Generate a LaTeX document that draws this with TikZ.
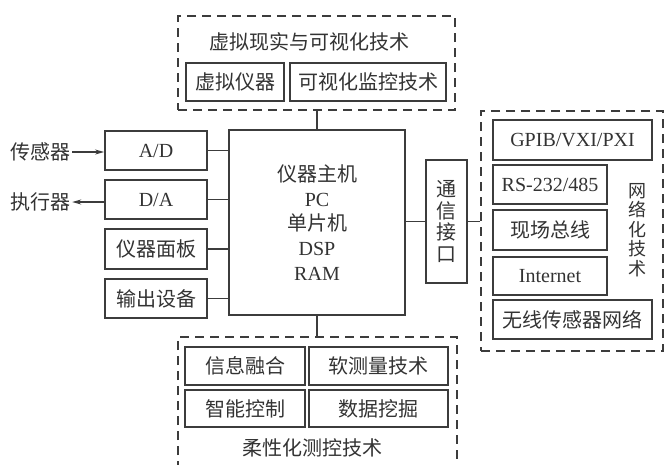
\documentclass[tikz,border=0pt]{standalone}
\usepackage{fontspec}
\setmainfont{Liberation Serif}
\newfontfamily\cjk{Noto Sans CJK SC}
\usetikzlibrary{arrows.meta}
\definecolor{lc}{HTML}{3C3C3C}
\definecolor{tc}{HTML}{333333}
\begin{document}
\begin{tikzpicture}[x=1pt,y=-1pt,
  font=\fontsize{20}{24}\selectfont,
  every node/.style={text=tc},
  box/.style={draw=lc, line width=1.8pt, inner sep=0pt, align=center},
  ibox/.style={draw=lc, line width=1.5pt, inner sep=0pt, align=center},
  grp/.style={draw=lc, line width=1.3pt, dash pattern=on 9pt off 6pt},
  conn/.style={draw=lc, line width=1.4pt},
  lbl/.style={inner sep=2pt}]
\useasboundingbox (0,0) rectangle (666,464);
\fill[white] (0,0) rectangle (666,464);

% top group
\node[grp, minimum width=277pt, minimum height=94pt] (vr) at (316.5,63) {};
\node[lbl] (vrt) at (309,42) {\cjk 虚拟现实与可视化技术};
\node[ibox, minimum width=98pt, minimum height=38pt] (vi) at (235,82) {\cjk 虚拟仪器};
\node[ibox, minimum width=156pt, minimum height=38pt] (vm) at (368,82) {\cjk 可视化监控技术};

% main
\node[box, minimum width=176pt, minimum height=185pt, font=\fontsize{20}{24.7}\selectfont] (main) at (317,222.5)
  {{\cjk 仪器主机}\\PC\\{\cjk 单片机}\\DSP\\RAM};

% left boxes
\node[box, minimum width=102pt, minimum height=39pt] (ad) at (156,150.5) {A/D};
\node[box, minimum width=102pt, minimum height=39pt] (da) at (156,199.5) {D/A};
\node[box, minimum width=102pt, minimum height=40pt] (pn) at (156,249) {\cjk 仪器面板};
\node[box, minimum width=102pt, minimum height=39pt] (od) at (156,298.5) {\cjk 输出设备};

\node[lbl] (sens) at (40,152) {\cjk 传感器};
\node[lbl] (act) at (40,202) {\cjk 执行器};

% comm
\node[box, minimum width=41pt, minimum height=123pt, font={\fontsize{20}{21.5}\selectfont\cjk}] (comm) at (446.5,221.5)
  {通\\信\\接\\口};

% network group
\node[grp, minimum width=182pt, minimum height=240pt] (net) at (572,231) {};
\node[box, minimum width=159pt, minimum height=40pt] (gp) at (572.5,140) {GPIB/VXI/PXI};
\node[box, minimum width=114pt, minimum height=39pt] (rs) at (550,184.5) {RS-232/485};
\node[box, minimum width=114pt, minimum height=40pt] (fb) at (550,230) {\cjk 现场总线};
\node[box, minimum width=114pt, minimum height=38pt] (inet) at (550,276) {Internet};
\node[box, minimum width=159pt, minimum height=39pt] (wsn) at (572.5,319.5) {\cjk 无线传感器网络};
\node[lbl, align=center, font={\fontsize{18}{19.5}\selectfont\cjk}] (nett) at (637,230) {网\\络\\化\\技\\术};

% bottom group (open at the bottom edge)
\draw[grp] (178,470) -- (178,337) -- (457,337) -- (457,470);
\coordinate (soft) at (317,337);
\node[ibox, minimum width=120pt, minimum height=38pt] (info) at (245,366) {\cjk 信息融合};
\node[ibox, minimum width=139pt, minimum height=38pt] (smt) at (378.5,366) {\cjk 软测量技术};
\node[ibox, minimum width=120pt, minimum height=37pt] (ic) at (245,408.5) {\cjk 智能控制};
\node[ibox, minimum width=139pt, minimum height=37pt] (dm) at (378.5,408.5) {\cjk 数据挖掘};
\node[lbl] (softt) at (312.5,448) {\cjk 柔性化测控技术};

% connectors
\draw[conn] (vr.south -| main.north) -- (main.north);
\draw[conn] (main.south) -- (soft);
\draw[conn] (ad.east) -- (ad.east -| main.west);
\draw[conn] (da.east) -- (da.east -| main.west);
\draw[conn] (pn.east) -- (pn.east -| main.west);
\draw[conn] (od.east) -- (od.east -| main.west);
\draw[conn] (comm.west -| main.east) -- (comm.west);
\draw[conn] (comm.east) -- (comm.east -| net.west);
\draw[conn, -{Stealth[length=9pt,width=5pt]}] (sens.east) -- (ad.west |- sens.east);
\draw[conn, -{Stealth[length=9pt,width=5pt]}] (da.west |- act.east) -- (act.east);
\end{tikzpicture}
\end{document}
